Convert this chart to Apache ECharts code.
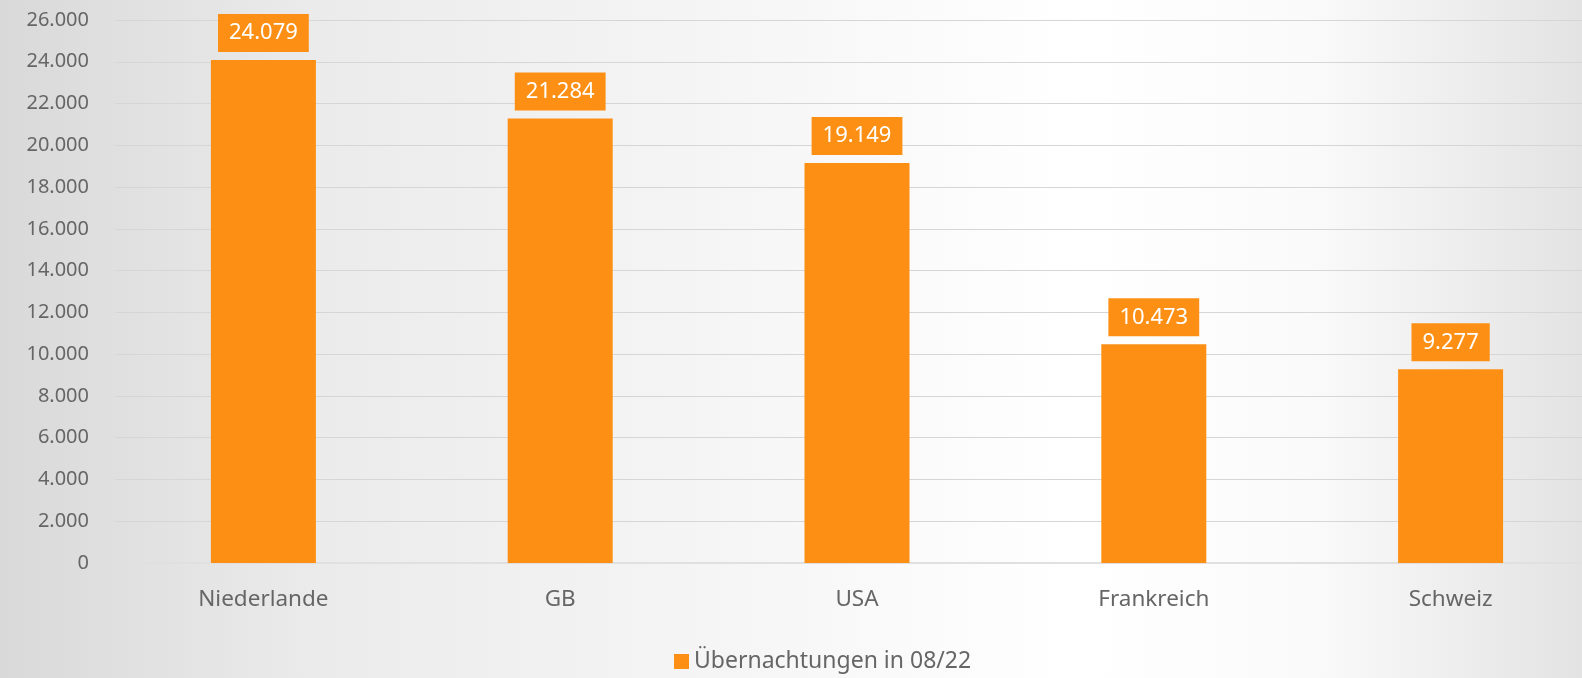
<!DOCTYPE html>
<html>
<head>
<meta charset="utf-8">
<script src="https://cdn.jsdelivr.net/npm/echarts@6/dist/echarts.min.js"></script>
<style>
html,body{margin:0;padding:0;}
#c{width:1582px;height:678px;}
</style>
</head>
<body>
<div id="c"></div>
<script>
const categories = ['Niederlande', 'GB', 'USA', 'Frankreich', 'Schweiz'];
const values = [24079, 21284, 19149, 10473, 9277];
const seriesName = 'Übernachtungen in 08/22';

const ORANGE = '#FD9014';
const FONT = '"Noto Sans", "Open Sans", sans-serif';
function fmt(v) {
  return String(v).replace(/\B(?=(\d{3})+(?!\d))/g, '.');
}

const chart = echarts.init(document.getElementById('c'), null, {renderer: 'canvas'});
chart.setOption({
  animation: false,
  backgroundColor: {
    type: 'linear', x: 0, y: 0, x2: 1, y2: 0,
    colorStops: [
      {offset: 0, color: '#d9d9d9'},
      {offset: 0.2, color: '#ebebeb'},
      {offset: 0.45, color: '#f5f5f5'},
      {offset: 0.68, color: '#ffffff'},
      {offset: 0.83, color: '#fafafa'},
      {offset: 1, color: '#e3e3e3'}
    ]
  },
  textStyle: {fontFamily: FONT},
  grid: {left: 115, top: 20, bottom: 115, width: 1484, outerBoundsMode: 'none', containLabel: false},
  legend: {
    top: 650,
    left: 674,
    padding: 0,
    itemWidth: 15,
    itemHeight: 15,
    icon: 'rect',
    itemGap: 10,
    textStyle: {fontSize: 23, color: '#666666', fontFamily: FONT},
    data: [seriesName]
  },
  xAxis: {
    type: 'category',
    data: categories,
    axisTick: {show: false},
    axisLine: {show: true, lineStyle: {color: '#e0e0e0', width: 2}},
    axisLabel: {fontSize: 22.5, color: '#666666', margin: 25, fontFamily: FONT}
  },
  yAxis: {
    type: 'value',
    min: 0,
    max: 26000,
    interval: 2000,
    axisLine: {show: false},
    axisTick: {show: false},
    splitLine: {lineStyle: {color: '#d6d6d6', width: 1}},
    axisLabel: {fontSize: 20, color: '#666666', margin: 26, formatter: fmt, fontFamily: FONT}
  },
  series: [{
    name: seriesName,
    type: 'bar',
    data: values,
    barWidth: 105,
    itemStyle: {color: ORANGE},
    label: {
      show: true,
      position: 'top',
      distance: 8,
      formatter: p => fmt(p.value),
      color: '#ffffff',
      fontSize: 22,
      fontFamily: FONT,
      backgroundColor: ORANGE,
      padding: [8, 11, 8, 11]
    }
  }]
});
</script>
</body>
</html>
